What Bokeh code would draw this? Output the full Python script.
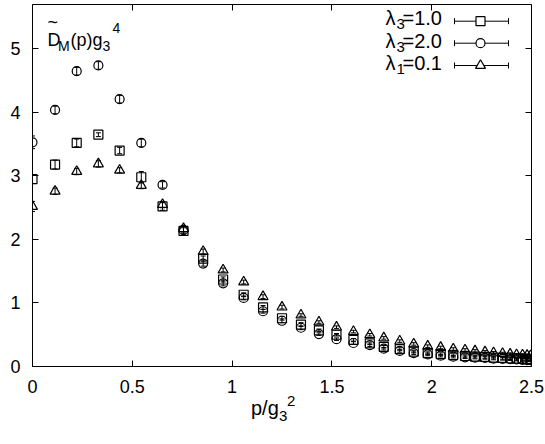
from bokeh.plotting import figure
from bokeh.models import Range1d, LinearAxis, Whisker, ColumnDataSource, TeeHead, FixedTicker, Div
from bokeh.layouts import column
from bokeh.core.properties import value
from bokeh.embed import file_html
from bokeh.resources import INLINE

# ---------------- data ----------------
p_vals = [0.0, 0.113, 0.2215, 0.33, 0.4365, 0.545, 0.6515, 0.7565, 0.855, 0.955,
          1.058, 1.155, 1.25, 1.345, 1.435, 1.523, 1.608, 1.69, 1.76, 1.84,
          1.91, 1.98, 2.045, 2.108, 2.167, 2.217, 2.267, 2.31, 2.355, 2.393,
          2.425, 2.455, 2.478, 2.495]

d_lam3_1 = [2.95, 3.18, 3.52, 3.65, 3.40, 2.98, 2.52, 2.135, 1.70, 1.37,
            1.13, 0.93, 0.76, 0.66, 0.57, 0.50, 0.42, 0.365, 0.31, 0.275,
            0.235, 0.21, 0.195, 0.18, 0.165, 0.155, 0.15, 0.14, 0.135, 0.13,
            0.125, 0.12, 0.12, 0.115]
e_lam3_1 = [0.07, 0.07, 0.06, 0.03, 0.05, 0.09, 0.06, 0.05, 0.04, 0.04,
            0.03, 0.03, 0.03, 0.03, 0.02, 0.02, 0.02, 0.02, 0.02, 0.02,
            0.02, 0.02, 0.02, 0.02, 0.02, 0.02, 0.02, 0.02, 0.02, 0.02,
            0.02, 0.02, 0.02, 0.02]

d_lam3_2 = [3.53, 4.04, 4.65, 4.74, 4.21, 3.52, 2.86, 2.15, 1.62, 1.31,
            1.08, 0.87, 0.72, 0.61, 0.51, 0.43, 0.37, 0.335, 0.28, 0.245,
            0.21, 0.19, 0.17, 0.155, 0.145, 0.14, 0.135, 0.125, 0.12, 0.115,
            0.11, 0.105, 0.10, 0.10]
e_lam3_2 = [0.10, 0.06, 0.06, 0.06, 0.06, 0.06, 0.05, 0.05, 0.04, 0.04,
            0.03, 0.03, 0.03, 0.03, 0.02, 0.02, 0.02, 0.02, 0.02, 0.02,
            0.02, 0.02, 0.02, 0.02, 0.02, 0.02, 0.02, 0.02, 0.02, 0.02,
            0.02, 0.02, 0.02, 0.02]

d_lam1_01 = [2.52, 2.76, 3.07, 3.19, 3.09, 2.85, 2.55, 2.17, 1.81, 1.52,
             1.33, 1.10, 0.935, 0.81, 0.70, 0.62, 0.55, 0.50, 0.45, 0.40,
             0.355, 0.32, 0.30, 0.275, 0.26, 0.245, 0.23, 0.215, 0.205, 0.195,
             0.185, 0.18, 0.175, 0.17]
e_lam1_01 = [0.08, 0.05, 0.05, 0.05, 0.04, 0.05, 0.05, 0.05, 0.04, 0.03,
             0.03, 0.03, 0.03, 0.02, 0.02, 0.02, 0.02, 0.02, 0.02, 0.02,
             0.02, 0.02, 0.02, 0.02, 0.02, 0.02, 0.02, 0.02, 0.02, 0.02,
             0.02, 0.02, 0.02, 0.02]

x_ticks = [0, 0.5, 1, 1.5, 2, 2.5]
x_tick_labels = ["0", "0.5", "1", "1.5", "2", "2.5"]
y_ticks = [0, 1, 2, 3, 4, 5]

series = [
    ("3", "=1.0", d_lam3_1, e_lam3_1, "square", 9),
    ("3", "=2.0", d_lam3_2, e_lam3_2, "circle", 9),
    ("1", "=0.1", d_lam1_01, e_lam1_01, "triangle", 10),
]

# ---------------- layout ----------------
W, H = 545, 444
FIG_H = 398
FL, FR, FT, FB = 32, 531, 4, 366   # frame edges in canvas px
XR = (0.0, 2.5)
YR = (0.0, 5.7)
FONT = "Liberation Sans"

p = figure(width=W, height=FIG_H, x_range=Range1d(*XR), y_range=Range1d(*YR),
           output_backend="svg", toolbar_location=None,
           min_border_left=FL, min_border_right=W - FR,
           min_border_top=FT, min_border_bottom=FIG_H - FB)
p.grid.visible = False
p.outline_line_color = "black"
p.outline_line_width = 1
p.background_fill_color = "white"
p.border_fill_color = "white"

def style_axis(ax, labels=True, standoff=9):
    ax.axis_line_color = None
    ax.major_tick_in = 6
    ax.major_tick_out = 0
    ax.minor_tick_line_color = None
    ax.major_tick_line_color = "black"
    if labels:
        ax.major_label_text_font = FONT
        ax.major_label_text_font_size = "18px"
        ax.major_label_text_color = "black"
        ax.major_label_standoff = standoff
    else:
        ax.major_label_text_font_size = "1px"
        ax.major_label_text_alpha = 0
        ax.major_label_standoff = 0

p.xaxis.ticker = FixedTicker(ticks=x_ticks)
p.xaxis.major_label_overrides = {t: s for t, s in zip(x_ticks, x_tick_labels)}
p.yaxis.ticker = FixedTicker(ticks=y_ticks)
p.yaxis.major_label_overrides = {t: str(t) for t in y_ticks}
style_axis(p.xaxis[0], standoff=13)
style_axis(p.yaxis[0], standoff=12)

ax_top = LinearAxis(ticker=FixedTicker(ticks=x_ticks))
ax_right = LinearAxis(ticker=FixedTicker(ticks=y_ticks))
style_axis(ax_top, labels=False)
style_axis(ax_right, labels=False)
p.add_layout(ax_top, "above")
p.add_layout(ax_right, "right")

# ---------------- data marks ----------------
for sub, rest, ys, es, marker, size in series:
    src = ColumnDataSource(dict(x=p_vals, y=ys,
                                lo=[y - e for y, e in zip(ys, es)],
                                hi=[y + e for y, e in zip(ys, es)]))
    w = Whisker(source=src, base="x", upper="hi", lower="lo", dimension="height",
                line_color="black", line_width=1,
                upper_head=TeeHead(size=5, line_color="black", line_width=1),
                lower_head=TeeHead(size=5, line_color="black", line_width=1))
    p.add_layout(w)
    p.scatter("x", "y", source=src, marker=marker, size=size,
              fill_color=None, line_color="black", line_width=1.2)

# ---------------- helpers: canvas px -> data coords ----------------
def dx(px):
    return XR[0] + (px - FL) / (FR - FL) * (XR[1] - XR[0])

def dy(py):
    return YR[0] + (FB - py) / (FB - FT) * (YR[1] - YR[0])

def txt(t, px, py_mid, size="18px"):
    p.text(x=[dx(px)], y=[dy(py_mid)], text=[t], text_font=value(FONT),
           text_font_size=value(size), text_color="black",
           text_align="left", text_baseline="middle")

# y label inside the frame: D~_M(p) g_3^4   (positions = visual centres)
txt("~", 47, 21)
txt("D", 47, 39)
txt("M", 57.5, 45, "14px")
txt("(p)g", 70, 39)
txt("3", 102, 45, "14px")
txt("4", 112, 27.5, "14px")

# ---------------- legend ----------------
rows_mid_text = [17.5, 40.5, 62.5]
rows_mid_line = [20.7, 42.7, 65]
for (sub, rest, ys, es, marker, size), tm, m in zip(series, rows_mid_text, rows_mid_line):
    txt("λ", 385, tm, "20px")
    txt(sub, 396, tm + 6, "15px")
    txt(rest, 402, tm, "20px")
    yy = dy(m)
    p.segment(x0=[dx(454)], y0=[yy], x1=[dx(508)], y1=[yy], line_color="black", line_width=1)
    p.segment(x0=[dx(454), dx(508)], y0=[dy(m - 3)] * 2, x1=[dx(454), dx(508)],
              y1=[dy(m + 3)] * 2, line_color="black", line_width=1)
    p.scatter(x=[dx(480)], y=[yy], marker=marker, size=size,
              fill_color="white", line_color="black", line_width=1.2)

# ---------------- x axis title (HTML text below the figure) ----------------
xlabel_html = (
    '<div style="position:relative;width:545px;height:46px;'
    'font-family:\'Liberation Sans\';color:black;">'
    '<span style="position:absolute;left:251px;top:0px;font-size:20px;line-height:20px;">p/g</span>'
    '<span style="position:absolute;left:279px;top:10px;font-size:15px;line-height:15px;">3</span>'
    '<span style="position:absolute;left:287px;top:-5px;font-size:15px;line-height:15px;">2</span>'
    '</div>'
)
xdiv = Div(text=xlabel_html, width=W, height=H - FIG_H,
           styles={"overflow": "visible", "margin": "0", "padding": "0"})

layout = column(p, xdiv, spacing=0)
open("out.html", "w").write(file_html(layout, INLINE))
